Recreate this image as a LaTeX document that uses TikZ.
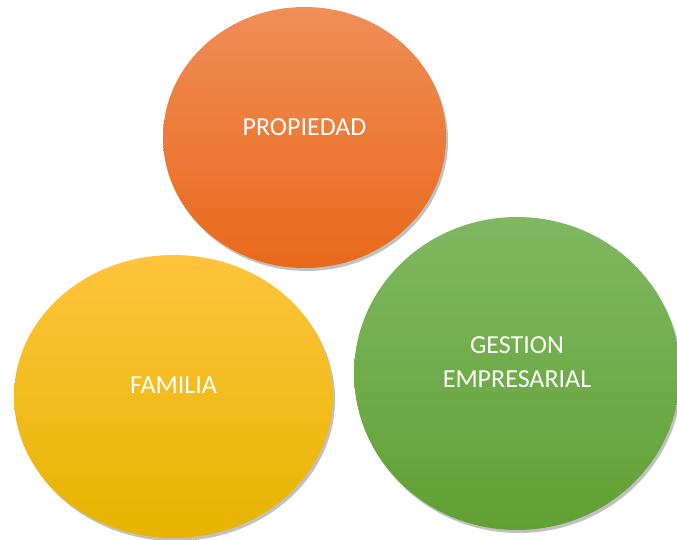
\documentclass[tikz,border=0pt]{standalone}
\usepackage{fontspec}
\setmainfont{Carlito}
\usetikzlibrary{shapes.geometric,shadows}
\definecolor{proptop}{HTML}{F08E58}
\definecolor{propmid}{HTML}{F47D2D}
\definecolor{propbot}{HTML}{E8691A}
\definecolor{famtop}{HTML}{FFC43C}
\definecolor{fammid}{HTML}{FFC60A}
\definecolor{fambot}{HTML}{E6B400}
\definecolor{gestop}{HTML}{80B862}
\definecolor{gesmid}{HTML}{6DB042}
\definecolor{gesbot}{HTML}{61A033}

\begin{document}
\begin{tikzpicture}[
  x=1pt, y=1pt,
  circ/.style={
    ellipse, inner sep=0pt,
    drop shadow={shadow xshift=2pt, shadow yshift=-3pt,
                 opacity=.35, fill=black!70}
  },
  lbl/.style={
    text=white, align=center,
    font=\fontsize{26}{34}\selectfont
  },
]
  \useasboundingbox (0,0) rectangle (677,539);

  \node[circ, minimum width=283, minimum height=261,
        top color=proptop, middle color=propmid, bottom color=propbot,
        label={[lbl, yshift=10pt]center:PROPIEDAD}]
    (propiedad) at (304.5,401.5) {};
  \node[circ, minimum width=319, minimum height=283,
        top color=famtop, middle color=fammid, bottom color=fambot,
        label={[lbl, yshift=11pt]center:FAMILIA}]
    (familia) at (173.5,142.5) {};
  \node[circ, minimum width=326, minimum height=313,
        top color=gestop, middle color=gesmid, bottom color=gesbot,
        label={[lbl, yshift=11pt]center:GESTION\\EMPRESARIAL}]
    (gestion) at (517,165.5) {};
\end{tikzpicture}
\end{document}
